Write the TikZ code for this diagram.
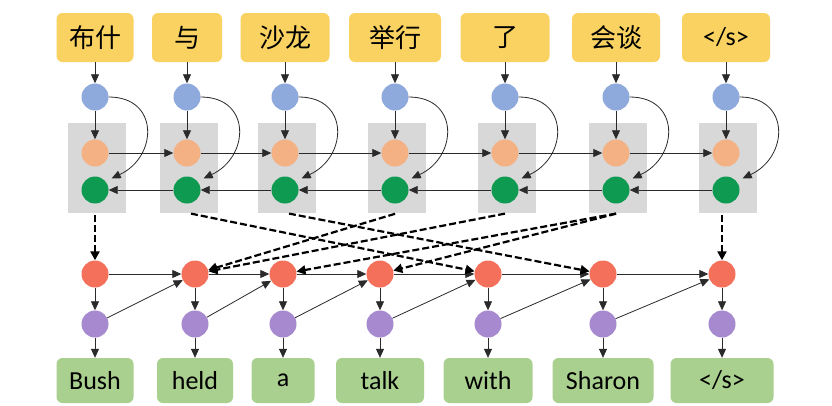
\documentclass[tikz,border=0pt]{standalone}
\usepackage{fontspec}
\setmainfont{Carlito}
\newfontfamily\cjk{Noto Sans CJK SC}
\usetikzlibrary{arrows.meta}
\definecolor{yboxc}{HTML}{F9D262}
\definecolor{bluec}{HTML}{8EA9DB}
\definecolor{orangec}{HTML}{F4B183}
\definecolor{greenc}{HTML}{0E9A50}
\definecolor{redc}{HTML}{F4705A}
\definecolor{purplec}{HTML}{A689CF}
\definecolor{tboxc}{HTML}{A9D08E}
\definecolor{grayc}{HTML}{D8D8D8}
\definecolor{linec}{HTML}{2A2A2A}
\begin{document}
\begin{tikzpicture}[x=1pt,y=1pt,
  srcbox/.style={fill=yboxc, rounded corners=6pt, minimum height=49pt, inner sep=0pt, font=\fontsize{26}{26}\selectfont},
  tgtbox/.style={fill=tboxc, rounded corners=6pt, minimum height=45pt, inner sep=0pt, font=\fontsize{26}{26}\selectfont},
  dot/.style={circle, minimum size=27pt, inner sep=0pt},
  graybox/.style={fill=grayc, minimum width=58pt, minimum height=90pt, inner sep=0pt},
  arr/.style={draw=linec, line width=0.8pt, -{Triangle[length=9pt,width=8pt]}},
  dasharr/.style={draw=black, line width=2.2pt, dash pattern=on 7pt off 3pt, -{Triangle[length=9pt,width=9pt]}, shorten <=2pt}]
\useasboundingbox (0,0) rectangle (832,-405);
\fill[white] (0,0) rectangle (832,-405);
% source side
\foreach \i/\x/\w/\t in {1/95/77/{\cjk 布什}, 2/187/70/{\cjk 与}, 3/285/89/{\cjk 沙龙}, 4/395/92/{\cjk 举行}, 5/505/89/{\cjk 了}, 6/616/88/{\cjk 会谈}, 7/726/88/{</s>}}{
  \node[srcbox, minimum width=\w pt] (s\i) at (\x,-37.5) {\t};
  \node[dot, fill=bluec] (b\i) at (\x,-97) {};
  \node[graybox] (k\i) at (\x+2,-168) {};
  \node[dot, fill=orangec] (o\i) at (\x,-153) {};
  \node[dot, fill=greenc] (g\i) at (\x,-190) {};
}
% target side
\foreach \i/\x/\w/\t in {1/95/77/Bush, 2/195/76/held, 3/283/63/a, 4/380/88/talk, 5/488/89/with, 6/603/101/Sharon, 7/722/103/{</s>}}{
  \node[dot, fill=redc] (r\i) at (\x,-274) {};
  \node[dot, fill=purplec] (p\i) at (\x,-324) {};
  \node[tgtbox, minimum width=\w pt] (t\i) at (\x,-380.5) {\t};
}
% vertical arrows
\foreach \i in {1,...,7}{
  \draw[arr] (s\i) -- (b\i);
  \draw[arr] (b\i) -- (o\i);
  \draw[arr] (b\i.east) to[out=0,in=25,looseness=1.6] ([xshift=7pt,yshift=2pt]g\i.north east);
  \draw[arr] (r\i) -- (p\i);
  \draw[arr] (p\i) -- (t\i);
}
% horizontal arrows
\foreach \i/\j in {1/2,2/3,3/4,4/5,5/6,6/7}{
  \draw[arr] (o\i) -- (o\j);
  \draw[arr] (g\j) -- (g\i);
  \draw[arr] (r\i) -- (r\j);
  \draw[arr] (p\i) -- (r\j);
}
% alignment (attention) arrows
\draw[dasharr] (k1.south -| r1) -- (r1);
\draw[dasharr] (k2.south) -- (r5);
\draw[dasharr] (k3.south) -- (r6);
\draw[dasharr] (k4.south) -- (r2);
\draw[dasharr] (k5.south) -- (r2);
\draw[dasharr] (k6.south) -- (r3);
\draw[dasharr] (k6.south) -- (r4);
\draw[dasharr] (k7.south -| r7) -- (r7);
\end{tikzpicture}
\end{document}
